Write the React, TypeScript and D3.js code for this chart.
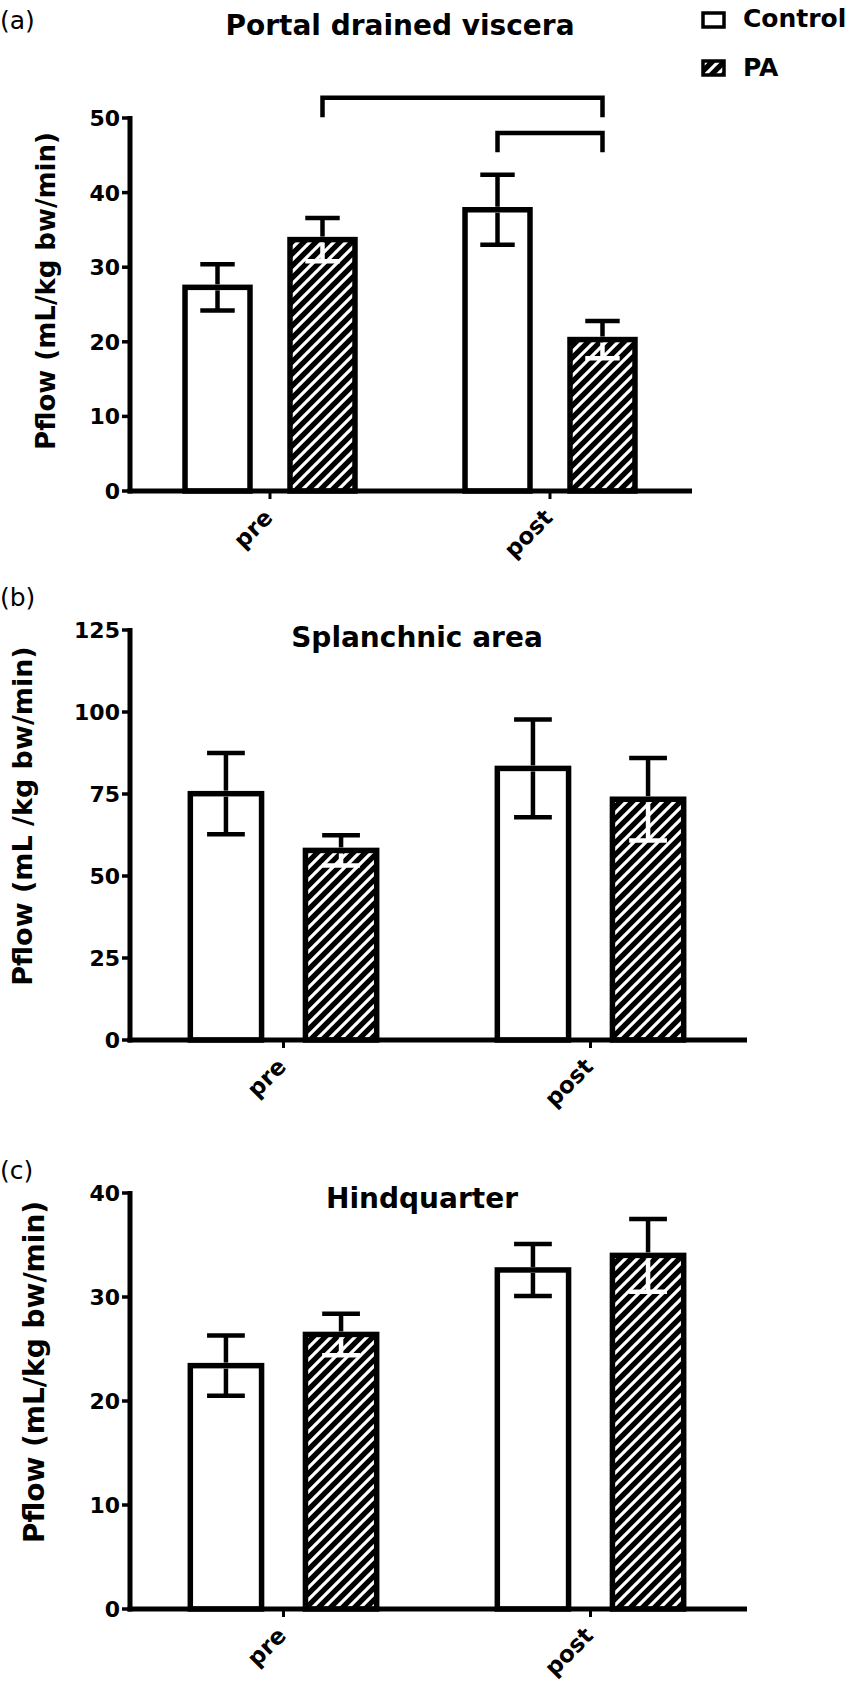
import React from 'react';
import * as d3 from 'd3';

const groups = ['pre', 'post'];
const seriesNames = ['Control', 'PA'];

// (a) Portal drained viscera
const pdvControl = [27.3, 37.7];
const pdvControlErr = [3.1, 4.7];
const pdvPA = [33.7, 20.3];
const pdvPAErr = [2.9, 2.5];
const pdvTicks = [0, 10, 20, 30, 40, 50];

// (b) Splanchnic area
const splControl = [75.1, 82.8];
const splControlErr = [12.4, 14.9];
const splPA = [57.8, 73.4];
const splPAErr = [4.6, 12.6];
const splTicks = [0, 25, 50, 75, 100, 125];

// (c) Hindquarter
const hqControl = [23.4, 32.6];
const hqControlErr = [2.9, 2.5];
const hqPA = [26.4, 34.0];
const hqPAErr = [2.0, 3.5];
const hqTicks = [0, 10, 20, 30, 40];

// significance brackets in (a): [group, series] -> [group, series], level, drop-to
const pdvBrackets = [
  { from: ['pre', 'PA'], to: ['post', 'PA'], y: 52.7, end: 50.1 },
  { from: ['post', 'Control'], to: ['post', 'PA'], y: 48.0, end: 45.4 },
];

const FONT = '"DejaVu Sans", sans-serif';

type Bracket = { from: string[]; to: string[]; y: number; end: number };

type PanelProps = {
  tag: string;
  title: string;
  yLabel: string;
  control: number[];
  controlErr: number[];
  pa: number[];
  paErr: number[];
  ticks: number[];
  top: number;
  bottom: number;
  left: number;
  bandEnd: number;
  axisEnd: number;
  tagY: number;
  titleX: number;
  titleY: number;
  yLabelX: number;
  yLabelY: number;
  yLabelSize: number;
  brackets?: Bracket[];
};

const Panel: React.FC<PanelProps> = (p) => {
  const yMax = p.ticks[p.ticks.length - 1];
  const y = d3.scaleLinear().domain([0, yMax]).range([p.bottom, p.top]);
  const x = d3.scaleBand<string>().domain(groups).range([p.left, p.bandEnd]).padding(0);
  const bw = x.bandwidth();
  const xs = d3.scaleBand<string>().domain(seriesNames).range([0, bw]).paddingInner(0.381).paddingOuter(0.524);
  const barW = xs.bandwidth();
  const capW = barW * 0.53;

  const vals: Record<string, number[]> = { Control: p.control, PA: p.pa };
  const errs: Record<string, number[]> = { Control: p.controlErr, PA: p.paErr };
  const cx = (g: string, s: string) => (x(g) ?? 0) + (xs(s) ?? 0) + barW / 2;

  return (
    <g>
      <text x={0} y={p.tagY} fontFamily={FONT} fontSize={25}>{p.tag}</text>
      <text x={p.titleX} y={p.titleY} textAnchor="middle" fontFamily={FONT} fontWeight="bold" fontSize={28}>{p.title}</text>
      <text
        transform={`translate(${p.yLabelX},${p.yLabelY}) rotate(-90)`}
        textAnchor="middle"
        dominantBaseline="central"
        fontFamily={FONT}
        fontWeight="bold"
        fontSize={p.yLabelSize}
      >
        {p.yLabel}
      </text>

      {/* bars */}
      {groups.map((g, gi) =>
        seriesNames.map((s) => {
          const v = vals[s][gi];
          return (
            <rect
              key={g + s}
              x={cx(g, s) - barW / 2}
              y={y(v)}
              width={barW}
              height={y(0) - y(v)}
              fill={s === 'PA' ? 'url(#hatch)' : '#fff'}
              stroke="#000"
              strokeWidth={5.5}
            />
          );
        })
      )}

      {/* error bars */}
      {groups.map((g, gi) =>
        seriesNames.map((s) => {
          const v = vals[s][gi];
          const e = errs[s][gi];
          const c = cx(g, s);
          const low = s === 'PA' ? '#fff' : '#000';
          return (
            <g key={'e' + g + s} strokeWidth={4.5}>
              <line x1={c} x2={c} y1={y(v) - 3} y2={y(v + e)} stroke="#000" />
              <line x1={c - capW / 2} x2={c + capW / 2} y1={y(v + e)} y2={y(v + e)} stroke="#000" />
              <line x1={c} x2={c} y1={y(v) + 3} y2={y(v - e)} stroke={low} />
              <line x1={c - capW / 2} x2={c + capW / 2} y1={y(v - e)} y2={y(v - e)} stroke={low} />
            </g>
          );
        })
      )}

      {/* axes */}
      <line x1={p.left} x2={p.left} y1={y(yMax) - 2} y2={p.bottom + 2.5} stroke="#000" strokeWidth={5} />
      <line x1={p.left - 2.5} x2={p.axisEnd} y1={p.bottom} y2={p.bottom} stroke="#000" strokeWidth={5} />
      {p.ticks.map((t) => (
        <g key={'t' + t}>
          <line x1={p.left - 8} x2={p.left} y1={y(t)} y2={y(t)} stroke="#000" strokeWidth={3.5} />
          <text
            x={p.left - 10}
            y={y(t)}
            dy="0.36em"
            textAnchor="end"
            fontFamily={FONT}
            fontWeight="bold"
            fontSize={22}
          >
            {t}
          </text>
        </g>
      ))}
      {groups.map((g) => {
        const gx = (x(g) ?? 0) + bw / 2;
        return (
          <g key={'x' + g}>
            <line x1={gx} x2={gx} y1={p.bottom} y2={p.bottom + 8} stroke="#000" strokeWidth={3} />
            <text
              transform={`translate(${gx + 4},${p.bottom + 28}) rotate(-45)`}
              textAnchor="end"
              fontFamily={FONT}
              fontWeight="bold"
              fontSize={23}
            >
              {g}
            </text>
          </g>
        );
      })}

      {/* brackets */}
      {(p.brackets ?? []).map((b, i) => {
        const x1 = cx(b.from[0], b.from[1]);
        const x2 = cx(b.to[0], b.to[1]);
        return (
          <path
            key={'b' + i}
            d={`M${x1},${y(b.end)}V${y(b.y)}H${x2}V${y(b.end)}`}
            fill="none"
            stroke="#000"
            strokeWidth={4.5}
          />
        );
      })}
    </g>
  );
};

const App: React.FC = () => {
  return (
    <svg
      width={850}
      height={1687}
      style={{ position: 'absolute', left: 0, top: 0, background: '#fff' }}
    >
      <defs>
        <pattern id="hatch" patternUnits="userSpaceOnUse" width={12} height={12}>
          <rect width={12} height={12} fill="#000" />
          <path d="M-3,3 L3,-3 M0,12 L12,0 M9,15 L15,9" stroke="#fff" strokeWidth={3.2} />
        </pattern>
      </defs>
      <rect width={850} height={1687} fill="#fff" />

      <Panel
        tag="(a)"
        title="Portal drained viscera"
        yLabel="Pflow (mL/kg bw/min)"
        control={pdvControl}
        controlErr={pdvControlErr}
        pa={pdvPA}
        paErr={pdvPAErr}
        ticks={pdvTicks}
        top={118}
        bottom={491}
        left={130}
        bandEnd={690}
        axisEnd={692}
        tagY={29}
        titleX={400}
        titleY={35}
        yLabelX={46}
        yLabelY={291}
        yLabelSize={26}
        brackets={pdvBrackets}
      />
      <Panel
        tag="(b)"
        title="Splanchnic area"
        yLabel="Pflow (mL /kg bw/min)"
        control={splControl}
        controlErr={splControlErr}
        pa={splPA}
        paErr={splPAErr}
        ticks={splTicks}
        top={630}
        bottom={1040}
        left={130}
        bandEnd={744}
        axisEnd={747}
        tagY={606}
        titleX={417}
        titleY={647}
        yLabelX={22}
        yLabelY={816}
        yLabelSize={27}
      />
      <Panel
        tag="(c)"
        title="Hindquarter"
        yLabel="Pflow (mL/kg bw/min)"
        control={hqControl}
        controlErr={hqControlErr}
        pa={hqPA}
        paErr={hqPAErr}
        ticks={hqTicks}
        top={1193}
        bottom={1609}
        left={130}
        bandEnd={744}
        axisEnd={747}
        tagY={1179}
        titleX={422}
        titleY={1208}
        yLabelX={34}
        yLabelY={1372}
        yLabelSize={28}
      />

      {/* legend */}
      {seriesNames.map((s, i) => (
        <g key={'lg' + s}>
          <rect
            x={703}
            y={13 + i * 48}
            width={21}
            height={14}
            fill={s === 'PA' ? 'url(#hatch)' : '#fff'}
            stroke="#000"
            strokeWidth={3.5}
          />
          <text x={743} y={27 + i * 49} fontFamily={FONT} fontWeight="bold" fontSize={25}>
            {s}
          </text>
        </g>
      ))}
    </svg>
  );
};

export default App;
